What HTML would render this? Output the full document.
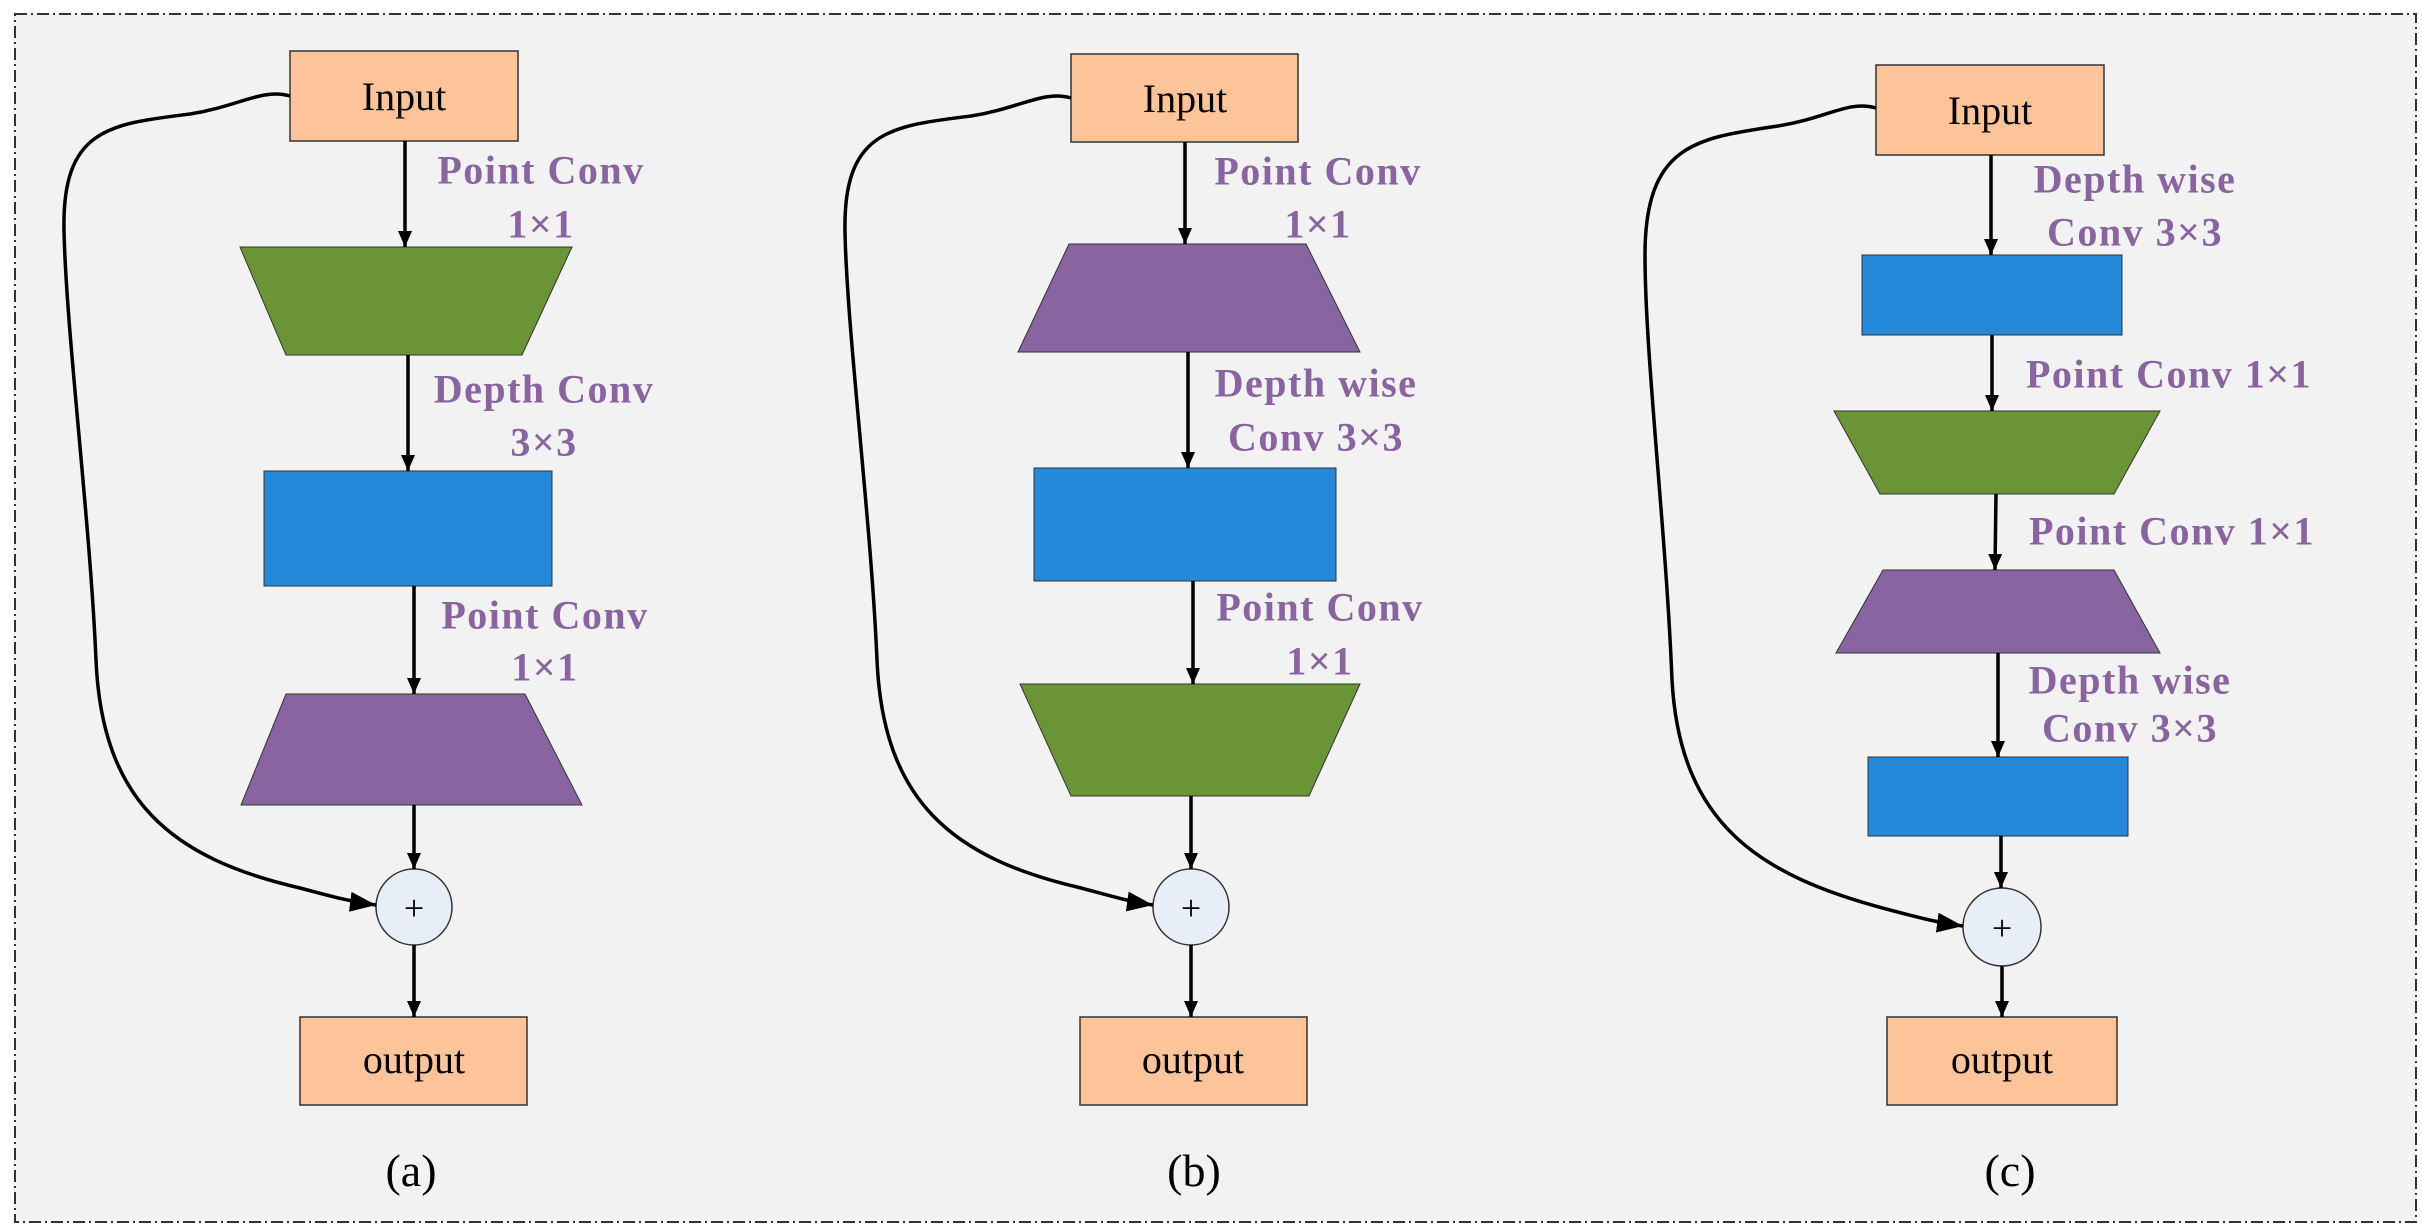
<!DOCTYPE html>
<html><head><meta charset="utf-8"><style>
html,body{margin:0;padding:0;background:#fff;}
svg{display:block;}
</style></head><body>
<svg width="2422" height="1225" viewBox="0 0 2422 1225" xmlns="http://www.w3.org/2000/svg">
<defs>
<marker id="ar" markerWidth="16" markerHeight="14" refX="16" refY="7" orient="auto" markerUnits="userSpaceOnUse" viewBox="0 0 16 14">
<path d="M0,0 L16,7 L0,14 z" fill="#000"/>
</marker>
<marker id="ab" markerWidth="26" markerHeight="20" refX="26" refY="10" orient="auto" markerUnits="userSpaceOnUse" viewBox="0 0 26 20">
<path d="M0,0 L26,10 L0,20 z" fill="#000"/>
</marker>
</defs>
<rect x="15" y="14" width="2401" height="1208" fill="#f2f2f2" stroke="#333" stroke-width="2" stroke-dasharray="12,4,2,4"/>

<g font-family="'Liberation Serif',serif">
<!-- (a) -->
<rect x="290" y="51" width="228" height="90" fill="#fdc49a" stroke="#333" stroke-width="1.5"/>
<text x="404" y="110" font-size="40" text-anchor="middle">Input</text>
<polygon points="240,247 572,247 522,355 286,355" fill="#6b9437" stroke="#333" stroke-width="1"/>
<rect x="264" y="471" width="288" height="115" fill="#2389d8" stroke="#333" stroke-width="1"/>
<polygon points="286,694 525,694 582,805 241,805" fill="#8864a0" stroke="#333" stroke-width="1"/>
<ellipse cx="414" cy="907" rx="38" ry="38" fill="#e8eef7" stroke="#333" stroke-width="1.5"/>
<text x="414" y="920" font-size="36" text-anchor="middle">+</text>
<rect x="300" y="1017" width="227" height="88" fill="#fdc49a" stroke="#333" stroke-width="1.5"/>
<text x="414" y="1073" font-size="40" text-anchor="middle">output</text>
<text x="411" y="1186" font-size="46" text-anchor="middle">(a)</text>
<g stroke="#000" stroke-width="3.5" marker-end="url(#ar)">
<line x1="405" y1="141" x2="405" y2="247"/>
<line x1="408" y1="355" x2="408" y2="471"/>
<line x1="414" y1="586" x2="414" y2="694"/>
<line x1="414" y1="805" x2="414" y2="869"/>
<line x1="414" y1="945" x2="414" y2="1017"/>
</g>
<path d="M290,96 C262,88 240,106 190,114 C110,124 62,128 64,230 C66,330 90,520 96,660 C102,800 170,858 300,888 C330,896 352,902 376,905" fill="none" stroke="#000" stroke-width="3.5" marker-end="url(#ab)"/>

<!-- (b) -->
<rect x="1071" y="54" width="227" height="88" fill="#fdc49a" stroke="#333" stroke-width="1.5"/>
<text x="1185" y="112" font-size="40" text-anchor="middle">Input</text>
<polygon points="1069,244 1306,244 1360,352 1018,352" fill="#8864a0" stroke="#333" stroke-width="1"/>
<rect x="1034" y="468" width="302" height="113" fill="#2389d8" stroke="#333" stroke-width="1"/>
<polygon points="1020,684 1360,684 1309,796 1071,796" fill="#6b9437" stroke="#333" stroke-width="1"/>
<ellipse cx="1191" cy="907" rx="38" ry="38" fill="#e8eef7" stroke="#333" stroke-width="1.5"/>
<text x="1191" y="920" font-size="36" text-anchor="middle">+</text>
<rect x="1080" y="1017" width="227" height="88" fill="#fdc49a" stroke="#333" stroke-width="1.5"/>
<text x="1193" y="1073" font-size="40" text-anchor="middle">output</text>
<text x="1194" y="1186" font-size="46" text-anchor="middle">(b)</text>
<g stroke="#000" stroke-width="3.5" marker-end="url(#ar)">
<line x1="1185" y1="142" x2="1185" y2="244"/>
<line x1="1188" y1="352" x2="1188" y2="468"/>
<line x1="1193" y1="581" x2="1193" y2="684"/>
<line x1="1191" y1="796" x2="1191" y2="869"/>
<line x1="1191" y1="945" x2="1191" y2="1017"/>
</g>
<path d="M1071,98 C1043,90 1021,108 971,116 C891,126 843,130 845,232 C847,332 871,520 877,660 C883,800 951,858 1081,888 C1111,896 1131,902 1153,905" fill="none" stroke="#000" stroke-width="3.5" marker-end="url(#ab)"/>

<!-- (c) -->
<rect x="1876" y="65" width="228" height="90" fill="#fdc49a" stroke="#333" stroke-width="1.5"/>
<text x="1990" y="124" font-size="40" text-anchor="middle">Input</text>
<rect x="1862" y="255" width="260" height="80" fill="#2389d8" stroke="#333" stroke-width="1"/>
<polygon points="1834,411 2160,411 2114,494 1880,494" fill="#6b9437" stroke="#333" stroke-width="1"/>
<polygon points="1883,570 2114,570 2160,653 1836,653" fill="#8864a0" stroke="#333" stroke-width="1"/>
<rect x="1868" y="757" width="260" height="79" fill="#2389d8" stroke="#333" stroke-width="1"/>
<ellipse cx="2002" cy="927" rx="39" ry="39" fill="#e8eef7" stroke="#333" stroke-width="1.5"/>
<text x="2002" y="940" font-size="36" text-anchor="middle">+</text>
<rect x="1887" y="1017" width="230" height="88" fill="#fdc49a" stroke="#333" stroke-width="1.5"/>
<text x="2002" y="1073" font-size="40" text-anchor="middle">output</text>
<text x="2010" y="1186" font-size="46" text-anchor="middle">(c)</text>
<g stroke="#000" stroke-width="3.5" marker-end="url(#ar)">
<line x1="1991" y1="155" x2="1991" y2="255"/>
<line x1="1992" y1="335" x2="1992" y2="411"/>
<line x1="1996" y1="494" x2="1995" y2="570"/>
<line x1="1998" y1="653" x2="1998" y2="757"/>
<line x1="2001" y1="836" x2="2001" y2="888"/>
<line x1="2002" y1="966" x2="2002" y2="1017"/>
</g>
<path d="M1876,108 C1848,100 1828,118 1778,126 C1698,138 1645,143 1645,255 C1645,355 1666,530 1672,680 C1680,825 1760,876 1890,910 C1920,918 1940,923 1963,926" fill="none" stroke="#000" stroke-width="3.5" marker-end="url(#ab)"/>
</g>

<g font-family="'Liberation Serif',serif" font-weight="bold" font-size="40" fill="#8a64a1" text-anchor="middle" dominant-baseline="central" letter-spacing="1.5">
<text x="541" y="170">Point Conv</text>
<text x="541" y="224">1×1</text>
<text x="544" y="389">Depth Conv</text>
<text x="544" y="442">3×3</text>
<text x="545" y="615">Point Conv</text>
<text x="545" y="667">1×1</text>

<text x="1318" y="171">Point Conv</text>
<text x="1318" y="224">1×1</text>
<text x="1316" y="383">Depth wise</text>
<text x="1316" y="437">Conv 3×3</text>
<text x="1320" y="607">Point Conv</text>
<text x="1320" y="661">1×1</text>

<text x="2135" y="179">Depth wise</text>
<text x="2135" y="232">Conv 3×3</text>
<text x="2169" y="374">Point Conv 1×1</text>
<text x="2172" y="531">Point Conv 1×1</text>
<text x="2130" y="680">Depth wise</text>
<text x="2130" y="728">Conv 3×3</text>
</g>
</svg>
</body></html>
